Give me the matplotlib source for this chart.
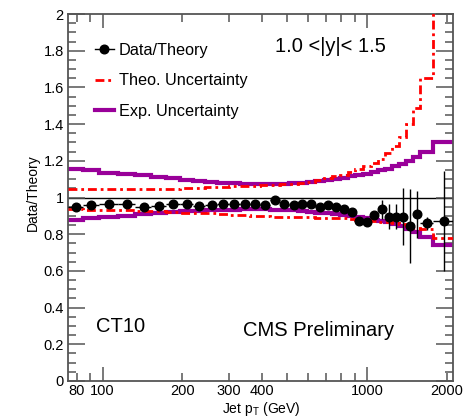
import numpy as np
import matplotlib
matplotlib.use("Agg")
import matplotlib.pyplot as plt
from matplotlib.lines import Line2D
from matplotlib.ticker import FixedLocator, FixedFormatter

plt.rcParams['font.family'] = ['Liberation Sans', 'DejaVu Sans']

# ---- data ----
bin_edges = [74, 84, 97, 114, 133, 153, 174, 196, 220, 245, 272, 300, 330, 362, 395,
             430, 468, 507, 548, 592, 638, 686, 737, 790, 846, 905, 967, 1032, 1101,
             1172, 1248, 1327, 1410, 1497, 1588, 1784, 2116]

data_ratio = [0.949, 0.958, 0.963, 0.963, 0.949, 0.953, 0.963, 0.963, 0.953, 0.958,
              0.963, 0.966, 0.966, 0.963, 0.958, 0.989, 0.963, 0.958, 0.963, 0.963,
              0.948, 0.958, 0.950, 0.935, 0.920, 0.871, 0.868, 0.902, 0.935, 0.896,
              0.896, 0.896, 0.845, 0.908, 0.860, 0.872]
data_err = [0.006] * 25 + [0.012, 0.015, 0.02, 0.05, 0.07, 0.07, 0.155, 0.2, 0.13, 0.035, 0.27]

exp_up = [1.155, 1.148, 1.135, 1.128, 1.120, 1.112, 1.105, 1.097, 1.090, 1.085,
          1.080, 1.078, 1.076, 1.075, 1.075, 1.075, 1.076, 1.078, 1.080, 1.083,
          1.088, 1.095, 1.100, 1.108, 1.115, 1.123, 1.130, 1.140, 1.148, 1.158,
          1.170, 1.185, 1.200, 1.222, 1.250, 1.300]
exp_dn = [0.876, 0.886, 0.893, 0.900, 0.908, 0.914, 0.919, 0.924, 0.928, 0.931,
          0.933, 0.934, 0.935, 0.935, 0.935, 0.934, 0.932, 0.930, 0.926, 0.922,
          0.918, 0.914, 0.910, 0.905, 0.899, 0.893, 0.887, 0.880, 0.872, 0.864,
          0.855, 0.842, 0.828, 0.810, 0.785, 0.740]
theo_up = [1.044, 1.044, 1.044, 1.044, 1.045, 1.046, 1.048, 1.050, 1.052, 1.055,
           1.058, 1.060, 1.062, 1.064, 1.066, 1.068, 1.071, 1.075, 1.080, 1.087,
           1.095, 1.105, 1.115, 1.125, 1.140, 1.155, 1.170, 1.190, 1.210, 1.240,
           1.280, 1.330, 1.400, 1.490, 1.650, 2.500]
theo_dn = [0.935, 0.934, 0.932, 0.930, 0.927, 0.924, 0.921, 0.918, 0.916, 0.913,
           0.910, 0.907, 0.904, 0.901, 0.898, 0.896, 0.895, 0.894, 0.893, 0.892,
           0.891, 0.890, 0.888, 0.886, 0.882, 0.878, 0.875, 0.872, 0.868, 0.864,
           0.860, 0.855, 0.845, 0.835, 0.828, 0.777]

x_labels = [80, 100, 200, 300, 400, 1000, 2000]

# ---- figure ----
W, H = 467, 418
fig = plt.figure(figsize=(W / 100, H / 100), dpi=100)
L, R, T, B = 68, 453, 14, 381
ax = fig.add_axes([L / W, 1 - B / H, (R - L) / W, (B - T) / H])

edges = np.array(bin_edges, dtype=float)
centers = 0.5 * (edges[:-1] + edges[1:])
xlo = centers - edges[:-1]
xhi = edges[1:] - centers

purple = '#990099'
red = '#ff0000'
dash = (0, (3.2, 1.4, 1, 1.4))

ax.axhline(1.0, color='black', lw=1.0, zorder=1)

ax.stairs(exp_up, edges, baseline=None, color=purple, lw=3.0, zorder=2)
ax.stairs(exp_dn, edges, baseline=None, color=purple, lw=3.0, zorder=2)
ax.stairs(theo_up, edges, baseline=None, color=red, lw=2.0, linestyle=dash, zorder=3)
ax.stairs(theo_dn, edges, baseline=None, color=red, lw=2.0, linestyle=dash, zorder=3)

ax.errorbar(centers, data_ratio, yerr=data_err, xerr=[xlo, xhi], fmt='o',
            color='black', ms=6.2, elinewidth=1.0, capsize=0, zorder=4)

ax.set_xscale('log')
ax.set_xlim(edges[0], edges[-1])
ax.set_ylim(0, 2)

spine_c = '#555555'
for s in ax.spines.values():
    s.set_color(spine_c)
    s.set_linewidth(1.3)

# x ticks
decades = [100, 1000]
minor = [80, 90, 200, 300, 400, 500, 600, 700, 800, 900, 2000]
ax.xaxis.set_major_locator(FixedLocator(decades))
ax.xaxis.set_major_formatter(FixedFormatter([str(v) for v in decades]))
ax.xaxis.set_minor_locator(FixedLocator(minor))
ax.xaxis.set_minor_formatter(FixedFormatter([str(v) if v in x_labels else '' for v in minor]))
ax.tick_params(axis='x', which='major', direction='in', length=10, width=1.1,
               color=spine_c, top=True, bottom=True, labelsize=10.5, pad=2)
ax.tick_params(axis='x', which='minor', direction='in', length=6, width=1.1,
               color=spine_c, top=True, bottom=True, labelsize=10.5, pad=2)

# y ticks
ax.set_yticks(np.arange(0, 2.01, 0.2))
ax.set_yticklabels(['0', '0.2', '0.4', '0.6', '0.8', '1', '1.2', '1.4', '1.6', '1.8', '2'])
ax.set_yticks(np.arange(0, 2.001, 0.05), minor=True)
ax.tick_params(axis='y', which='major', direction='in', length=12, width=1.1,
               color=spine_c, left=True, right=True, labelsize=10.5, pad=3)
ax.tick_params(axis='y', which='minor', direction='in', length=6, width=1.1,
               color=spine_c, left=True, right=True)

def fx(px):
    return px / W

def fy(py):
    return 1 - py / H

fig.text(fx(33), fy(193), 'Data/Theory', rotation=90, ha='center', va='center', fontsize=10)
fig.text(fx(261), fy(409), r'Jet p$_\mathregular{T}$ (GeV)', ha='center', va='center', fontsize=10)

fig.text(fx(275), fy(46), '1.0 <|y|< 1.5', ha='left', va='center', fontsize=14.5)
fig.text(fx(96), fy(327), 'CT10', ha='left', va='center', fontsize=14.5)
fig.text(fx(243), fy(330), 'CMS Preliminary', ha='left', va='center', fontsize=14.5)

handles = [
    Line2D([], [], color='black', marker='o', ms=6.2, lw=1.0),
    Line2D([], [], color=red, lw=2.0, linestyle=dash),
    Line2D([], [], color=purple, lw=3.0),
]
labels = ['Data/Theory', 'Theo. Uncertainty', 'Exp. Uncertainty']
fig.legend(handles, labels, loc='upper left', bbox_to_anchor=(fx(95), fy(43)),
           frameon=False, fontsize=11.7, handlelength=1.15, handletextpad=0.3,
           labelspacing=0.95, borderpad=0, borderaxespad=0)

fig.savefig('out.png', dpi=100)
